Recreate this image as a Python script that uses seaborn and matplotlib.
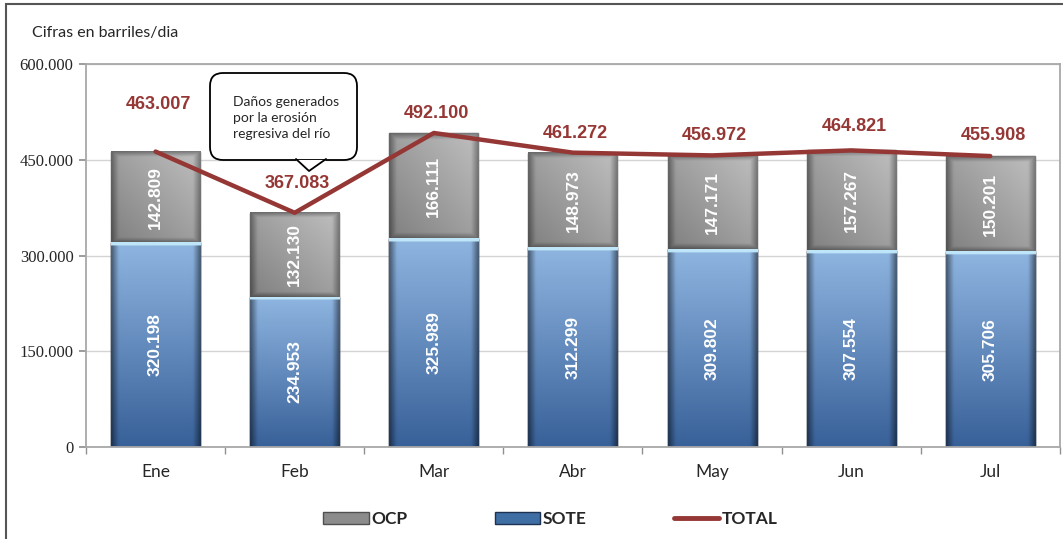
import numpy as np
import pandas as pd
import seaborn as sns
import matplotlib.pyplot as plt
from matplotlib.patches import Patch, Rectangle, FancyBboxPatch, Polygon
from matplotlib.lines import Line2D
from matplotlib.transforms import IdentityTransform

meses = ["Ene", "Feb", "Mar", "Abr", "May", "Jun", "Jul"]
sote = [320198, 234953, 325989, 312299, 309802, 307554, 305706]
ocp = [142809, 132130, 166111, 148973, 147171, 157267, 150201]
total = [463007, 367083, 492100, 461272, 456972, 464821, 455908]
# vertical offset (points) of the TOTAL labels above the line
label_off = [34, 21, 14, 14, 14, 17, 15]

df = pd.DataFrame({"mes": meses, "SOTE": sote, "OCP": ocp, "TOTAL": total})
df["stack"] = df["SOTE"] + df["OCP"]

RED = "#953735"
SANS = ["Lato", "DejaVu Sans"]


def fmt(v):
    return f"{v:,.0f}".replace(",", ".")


def bar_gradient(kind, n=120, m=40):
    yy = np.linspace(0, 1, n)[:, None]      # 0 = top
    xx = np.linspace(0, 1, m)[None, :]
    edge = np.minimum(np.minimum(xx, 1 - xx) / 0.08, 1)
    if kind == "blue":
        top = np.array([0.56, 0.71, 0.88])
        bot = np.array([0.22, 0.38, 0.60])
        base = top * (1 - yy[..., None]) + bot * yy[..., None]
        base = base * (0.55 + 0.45 * edge[..., None])
        base[:2] = [0.75, 0.90, 0.98]
    else:
        diag = (xx + (1 - yy)) / 2
        g = 0.50 + 0.25 * diag
        base = np.repeat(g[..., None], 3, axis=2)
        vedge = np.minimum(np.minimum(yy, 1 - yy) / 0.06, 1)
        base = base * (0.65 + 0.35 * np.minimum(edge, vedge)[..., None])
    return np.clip(base, 0, 1)


sns.set_theme(style="white")
plt.rcParams["font.family"] = ["Liberation Sans", "DejaVu Sans"]

fig = plt.figure(figsize=(10.63, 5.39), dpi=100)
ax = fig.add_axes([0.0809, 0.1707, 0.9161, 0.7103])

sns.barplot(data=df, x="mes", y="stack", color="#8c8c8c", width=0.64,
            ax=ax, zorder=2, saturation=1)
sns.barplot(data=df, x="mes", y="SOTE", color="#3f6ea5", width=0.64,
            ax=ax, zorder=2, saturation=1)

ocp_bars = ax.patches[:len(meses)]
sote_bars = ax.patches[len(meses):]
g_img = bar_gradient("gray")
b_img = bar_gradient("blue")
for i, (pg, pb) in enumerate(zip(ocp_bars, sote_bars)):
    x0, w = pb.get_x(), pb.get_width()
    pg.set_edgecolor("#505050")
    pb.set_edgecolor("#1d3150")
    ax.imshow(g_img, extent=[x0, x0 + w, sote[i], sote[i] + ocp[i]],
              aspect="auto", zorder=2.1, interpolation="bilinear")
    ax.imshow(b_img, extent=[x0, x0 + w, 0, sote[i]],
              aspect="auto", zorder=2.1, interpolation="bilinear")
    ax.text(i, sote[i] / 2, fmt(sote[i]), rotation=90, ha="center",
            va="center", color="white", fontsize=12.5, fontweight="bold",
            zorder=4)
    ax.text(i, sote[i] + ocp[i] / 2, fmt(ocp[i]), rotation=90, ha="center",
            va="center", color="white", fontsize=12.5, fontweight="bold",
            zorder=4)

sns.lineplot(data=df, x="mes", y="TOTAL", color=RED, lw=3.2, ax=ax,
             zorder=5, sort=False)
for i, v in enumerate(total):
    ax.annotate(fmt(v), (i, v), xytext=(2, label_off[i]),
                textcoords="offset points", ha="center", va="center",
                color=RED, fontsize=13, fontweight="bold", zorder=6)

ax.set_xlim(-0.5, len(meses) - 0.5)
ax.set_ylim(0, 600000)
ax.set_yticks([0, 150000, 300000, 450000, 600000])
ax.set_yticklabels([fmt(v) for v in ax.get_yticks()])
for lab in ax.get_yticklabels():
    lab.set_family(["Liberation Serif", "DejaVu Serif"])
    lab.set_fontsize(12)
ax.set_xlabel("")
ax.set_ylabel("")
ax.tick_params(axis="x", labelsize=12.5, pad=12, length=0)
ax.tick_params(axis="y", length=5, color="#909090", pad=4, left=True)
for lab in ax.get_xticklabels():
    lab.set_family(SANS)
# category boundary ticks
ax.set_xticks(np.arange(-0.5, len(meses)), minor=True)
ax.tick_params(axis="x", which="minor", length=5, color="#909090",
               bottom=True, direction="out")
ax.grid(axis="y", color="#d4d4d4", lw=1, zorder=0)
ax.set_axisbelow(True)
for s in ax.spines.values():
    s.set_color("#a8a8a8")
    s.set_linewidth(1.3)

# callout (pixel coordinates, origin bottom-left)
H = 539
px = IdentityTransform()
box = FancyBboxPatch((210, H - 160), 147, 87,
                     boxstyle="round,pad=0,rounding_size=13",
                     fc="white", ec="black", lw=1.3, transform=px,
                     figure=fig, zorder=8)
tail = [(296, H - 160), (309, H - 171), (326, H - 160)]
fig.patches.append(box)
fig.patches.append(Polygon(tail, closed=True, fc="white", ec="none",
                           transform=px, figure=fig, zorder=9))
fig.lines.append(Line2D([296, 309, 326], [H - 159, H - 171, H - 159],
                        color="black", lw=1.3, transform=px, figure=fig,
                        zorder=10))
fig.text(233 / 1063, 1 - 118 / H,
         "Daños generados\npor la erosión\nregresiva del río",
         ha="left", va="center", fontsize=10, linespacing=1.45,
         family=SANS, zorder=11)

fig.text(0.030, 0.938, "Cifras en barriles/dia", fontsize=11.5,
         family=SANS, va="center")

handles = [Patch(fc="#8c8c8c", ec="#505050"),
           Patch(fc="#3f6ea5", ec="#1d3150"),
           Line2D([], [], color=RED, lw=3.5)]
leg = fig.legend(handles, ["OCP", "SOTE", "TOTAL"], loc="center",
                 bbox_to_anchor=(0.518, 0.037), ncol=3, frameon=False,
                 handlelength=2.6, handleheight=0.7, handletextpad=0.15,
                 columnspacing=5.05,
                 prop=dict(weight="bold", size=12.5, family=SANS))

fig.patches.append(Rectangle((0.0056, -0.05), 1.2, 0.0426 + 1.0,
                             transform=fig.transFigure, fill=False,
                             ec="#555555", lw=1.5, figure=fig))

fig.savefig("out.png", dpi=100)
